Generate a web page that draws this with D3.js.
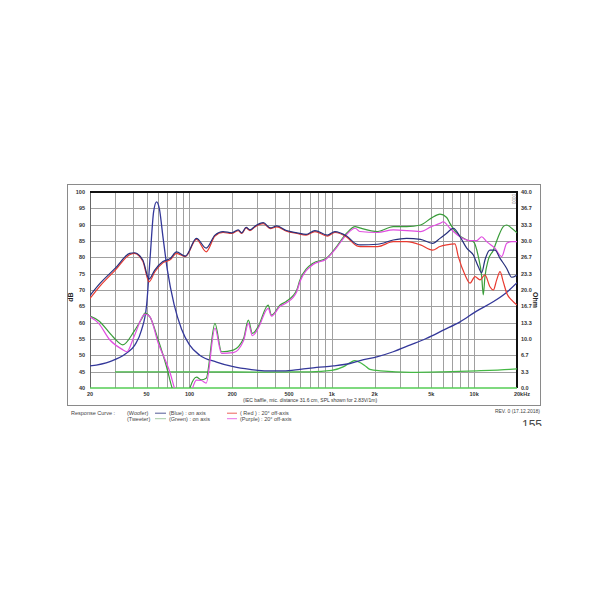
<!DOCTYPE html>
<html>
<head>
<meta charset="utf-8">
<script src="https://cdn.jsdelivr.net/npm/d3@7"></script>
<style>
  body { margin: 0; background: #fff; }
  svg { display: block; font-family: "Liberation Sans", Arial, sans-serif; }
</style>
</head>
<body>
<svg id="chart" width="610" height="610"></svg>
<script>
// grid / tick values
const dbTicks = [40, 45, 50, 55, 60, 65, 70, 75, 80, 85, 90, 95, 100];
const ohmTicks = ["0.0", "3.3", "6.7", "10.0", "13.3", "16.7", "20.0", "23.3", "26.7", "30.0", "33.3", "36.7", "40.0"];
const freqLabels = [[20, "20"], [50, "50"], [100, "100"], [200, "200"], [500, "500"], [1000, "1k"], [2000, "2k"], [5000, "5k"], [10000, "10k"]];

// woofer, on axis (blue) - [Hz, dB]
const wooferOn = [
  [20, 68.3], [23.5, 72], [30, 76.6], [38, 81.2], [41, 81.4], [47, 79.2], [52, 73.4], [57, 76.1],
  [65, 78.7], [73.5, 79.7], [81, 81.7], [93.5, 80.4], [112, 85.8], [131, 82.8], [151, 86.8],
  [172, 87.9], [198, 87.5], [220, 88.4], [233, 87.5], [250, 89.2], [266, 88.4], [290, 89.6],
  [330, 90.6], [370, 89.0], [410, 89.6], [480, 88.2], [570, 87.5], [660, 87.0], [760, 88.2],
  [930, 86.8], [1050, 87.9], [1270, 86.5], [1500, 84.0], [1580, 83.8], [2100, 84.0], [2700, 85.3],
  [3350, 85.8], [4200, 85.5], [5100, 84.3], [5750, 85.8], [6410, 87.4], [7140, 88.9], [7960, 86.3],
  [8870, 82.8], [9870, 80.7], [10700, 77.1], [11300, 75.3], [11910, 79.2], [12910, 82.2],
  [14000, 82.2], [15200, 79.7], [16940, 76.6], [18360, 73.9], [20000, 74.6]
];
// woofer, 20 deg off axis (red)
const wooferOff = [
  [20, 67.4], [23.5, 71.2], [30, 76.0], [38, 80.8], [41, 81.2], [47, 78.8], [52, 72.5], [57, 75.5],
  [65, 78.3], [73.5, 79.3], [81, 81.2], [93.5, 80.2], [112, 85.5], [131, 81.7], [151, 86.5],
  [172, 87.6], [198, 87.3], [220, 88.2], [233, 87.3], [250, 89.0], [266, 88.2], [290, 89.4],
  [330, 90.3], [370, 88.8], [410, 89.3], [480, 88.0], [570, 87.3], [660, 86.8], [760, 87.9],
  [930, 86.5], [1050, 87.6], [1270, 86.2], [1500, 83.5], [1580, 83.3], [2100, 83.3], [2700, 84.8],
  [3350, 84.8], [4200, 83.8], [5100, 82.2], [5750, 83.3], [6410, 83.8], [7330, 84.1], [7740, 80.2],
  [8630, 74.6], [9350, 72.1], [10140, 74.1], [10990, 73.1], [11910, 74.6], [12910, 71.0],
  [13640, 70.0], [14400, 73.1], [15200, 75.6], [16020, 72.5], [16940, 69.0], [18360, 66.9], [20000, 65.4]
];
// tweeter, on axis (green)
const tweeterOn = [
  [20, 62.0], [23, 60.6], [29, 55.7], [34, 53.2], [41, 57.5], [47, 61.8], [48.6, 62.9], [52.7, 61.8],
  [60, 55.0], [69, 46.5], [75, 40.4], [85, 35.0], [95, 36.0], [101, 40.2], [112, 43.3], [121, 42.5],
  [131, 43.0], [151, 59.8], [168, 51.1], [203, 51.6], [240, 55.2], [259, 60.8], [277, 56.7],
  [304, 58.8], [357, 65.4], [377, 62.3], [433, 65.4], [478, 66.5], [567, 70.0], [597, 73.1],
  [738, 78.2], [915, 79.7], [1080, 83.3], [1270, 87.4], [1460, 89.4], [1570, 89.0], [2100, 87.9],
  [2700, 89.4], [3350, 89.4], [4200, 89.9], [5000, 92.0], [5750, 93.2], [6410, 92.2], [6760, 90.4],
  [7540, 87.4], [8870, 85.3], [9870, 84.8], [10700, 80.2], [11300, 74.1], [11590, 68.5],
  [11910, 74.1], [12560, 79.2], [13640, 82.2], [14780, 86.3], [16020, 89.4], [16940, 89.9],
  [18360, 88.9], [20000, 87.5]
];
// tweeter, 20 deg off axis (purple)
const tweeterOff = [
  [20, 61.8], [23, 59.8], [27.6, 54.7], [33.4, 51.9], [36.3, 51.1], [41, 56.0], [48.6, 62.6],
  [52.7, 61.8], [60, 54.0], [73.5, 44.3], [79, 39.5], [90, 35.0], [101, 38.0], [112, 42.4],
  [121, 42.3], [131, 41.5], [151, 58.3], [168, 50.6], [203, 50.8], [240, 54.5], [259, 59.8],
  [277, 56.0], [304, 58.3], [357, 64.4], [377, 62.0], [433, 65.0], [478, 66.0], [567, 69.5],
  [597, 72.5], [738, 77.8], [915, 79.5], [1080, 83.0], [1270, 87.0], [1460, 88.9], [1570, 87.9],
  [2100, 87.6], [2700, 88.4], [4200, 87.9], [5000, 89.4], [5750, 90.4], [6070, 90.9], [6760, 88.9],
  [7960, 86.3], [9350, 85.1], [10420, 85.1], [11300, 86.3], [12250, 84.8], [14000, 82.8],
  [15620, 80.2], [16940, 84.3], [18360, 84.8], [20000, 84.8]
];
// impedance - [Hz, Ohm]
const wooferImp = [
  [20, 4.5], [27.6, 5.4], [36, 7.1], [41.4, 8.8], [46, 11.8], [50, 17], [53, 27], [56, 36],
  [58.7, 38], [61.5, 36.5], [65, 31], [70, 24], [78, 17], [88, 12], [100, 8.8],
  [118, 6.7], [155, 5.3], [203, 4.35], [266, 3.8], [350, 3.5], [458, 3.5], [598, 3.8], [783, 4.2],
  [1025, 4.5], [1340, 5.0], [1580, 5.6], [2100, 6.4], [2700, 7.4], [3570, 8.8], [4600, 10.1],
  [6070, 11.8], [7960, 13.5], [10400, 15.7], [13600, 17.6], [16900, 19.5], [20000, 21.5]
];
const tweeterImp = [
  [30, 3.3], [100, 3.3], [300, 3.25], [700, 3.3], [1000, 3.6], [1200, 4.3], [1350, 5.2], [1450, 5.6],
  [1550, 5.3], [1700, 4.6], [1850, 3.8], [2200, 3.5], [3600, 3.2], [6000, 3.3], [10400, 3.5],
  [17800, 3.8], [20000, 3.9]
];

const legendRows = [
  ["(Woofer)", "(Blue)  : on axis", "( Red ) : 20\u00b0 off-axis"],
  ["(Tweeter)", "(Green) : on axis", "(Purple) : 20\u00b0 off-axis"]
];

const plot = {left: 90, right: 517, top: 192, bottom: 388};
const colors = {
  blue: "#27307c", red: "#e8392f", green: "#3a9d3a", purple: "#e04ee0",
  imp: "#34389a", timp: "#45b845", grid: "#a0a0a0"
};

const svg = d3.select("#chart");

const x = d3.scaleLog().domain([20, 20000]).range([plot.left, plot.right]);
const y = d3.scaleLinear().domain([40, 100]).range([plot.bottom, plot.top]);
const yOhm = d3.scaleLinear().domain([0, 40]).range([plot.bottom, plot.top]);

// outer frame
svg.append("rect")
    .attr("x", 67.5).attr("y", 184.5)
    .attr("width", 473).attr("height", 221)
    .attr("fill", "none").attr("stroke", "#8a8a8a").attr("stroke-width", 1);

svg.append("defs").append("clipPath").attr("id", "plotclip")
    .append("rect")
    .attr("x", plot.left).attr("y", plot.top)
    .attr("width", plot.right - plot.left).attr("height", plot.bottom - plot.top);

// grid
let gridFreqs = [];
[10, 100, 1000, 10000].forEach(dec => {
    for (let m = 1; m <= 9; m++) {
        let f = dec * m;
        if (f > 20 && f < 20000) gridFreqs.push(f);
    }
});
svg.append("g").selectAll("line.v")
    .data(gridFreqs)
    .join("line")
    .attr("x1", d => Math.round(x(d)) + 0.5).attr("x2", d => Math.round(x(d)) + 0.5)
    .attr("y1", plot.top).attr("y2", plot.bottom)
    .attr("stroke", colors.grid).attr("stroke-width", 1);
svg.append("g").selectAll("line.h")
    .data(dbTicks.slice(1, -1))
    .join("line")
    .attr("x1", plot.left).attr("x2", plot.right)
    .attr("y1", d => Math.round(y(d)) + 0.5).attr("y2", d => Math.round(y(d)) + 0.5)
    .attr("stroke", colors.grid).attr("stroke-width", 1);

// borders
svg.append("line").attr("x1", plot.left + 0.5).attr("x2", plot.left + 0.5)
    .attr("y1", plot.top).attr("y2", plot.bottom).attr("stroke", "#666");
svg.append("line").attr("x1", plot.left).attr("x2", plot.right + 1)
    .attr("y1", plot.top).attr("y2", plot.top).attr("stroke", "#111").attr("stroke-width", 2);
svg.append("line").attr("x1", plot.right).attr("x2", plot.right)
    .attr("y1", plot.top).attr("y2", plot.bottom).attr("stroke", "#111").attr("stroke-width", 2);
svg.append("line").attr("x1", plot.left).attr("x2", plot.right)
    .attr("y1", plot.bottom).attr("y2", plot.bottom).attr("stroke", "#55cc55").attr("stroke-width", 1.5);

// curves
const lineDb = d3.line().x(d => x(d[0])).y(d => y(d[1])).curve(d3.curveMonotoneX);
const lineOhm = d3.line().x(d => x(d[0])).y(d => yOhm(d[1])).curve(d3.curveMonotoneX);

const curves = svg.append("g").attr("clip-path", "url(#plotclip)").attr("fill", "none");
curves.append("path").attr("d", lineOhm(tweeterImp)).attr("stroke", colors.timp).attr("stroke-width", 1.3);
curves.append("path").attr("d", lineOhm(wooferImp)).attr("stroke", colors.imp).attr("stroke-width", 1.3);
curves.append("path").attr("d", lineDb(tweeterOn)).attr("stroke", colors.green).attr("stroke-width", 1.2);
curves.append("path").attr("d", lineDb(tweeterOff)).attr("stroke", colors.purple).attr("stroke-width", 1.2);
curves.append("path").attr("d", lineDb(wooferOff)).attr("stroke", colors.red).attr("stroke-width", 1.2);
curves.append("path").attr("d", lineDb(wooferOn)).attr("stroke", colors.blue).attr("stroke-width", 1.2);

// axis labels
const labels = svg.append("g").attr("fill", "#333").attr("font-size", 5.5).attr("font-weight", "bold");
labels.selectAll("text.db")
    .data(dbTicks)
    .join("text")
    .attr("x", 85).attr("y", d => y(d) + 2)
    .attr("text-anchor", "end")
    .text(d => d);
labels.selectAll("text.ohm")
    .data(ohmTicks)
    .join("text")
    .attr("x", 521).attr("y", (d, i) => yOhm(i * 40 / 12) + 2)
    .text(d => d);
labels.selectAll("text.f")
    .data(freqLabels)
    .join("text")
    .attr("x", d => x(d[0])).attr("y", 396)
    .attr("text-anchor", "middle")
    .text(d => d[1]);
labels.append("text").attr("x", 514).attr("y", 396).text("20kHz");

svg.append("text")
    .attr("transform", "translate(73,297) rotate(-90)")
    .attr("text-anchor", "middle").attr("font-size", 7).attr("font-weight", "bold").attr("fill", "#222")
    .text("dB");
svg.append("text")
    .attr("transform", "translate(533,300) rotate(90)")
    .attr("text-anchor", "middle").attr("font-size", 7).attr("font-weight", "bold").attr("fill", "#222")
    .text("Ohm");
svg.append("text")
    .attr("transform", "translate(512,194) rotate(90)")
    .attr("font-size", 4.5).attr("fill", "#777")
    .text("0000");

svg.append("text")
    .attr("x", 310).attr("y", 402)
    .attr("text-anchor", "middle").attr("font-size", 5).attr("fill", "#333")
    .text("(IEC baffle, mic. distance 31.6 cm, SPL shown for 2.83V/1m)");

// legend
const legend = svg.append("g").attr("font-size", 5.5).attr("fill", "#444");
legend.append("text").attr("x", 71).attr("y", 415).text("Response Curve :");
const legendColors = [[colors.blue, colors.red], ["#8fbf8f", colors.purple]];
legendRows.forEach((row, i) => {
    let yy = 415 + i * 5.5;
    legend.append("text").attr("x", 127).attr("y", yy).text(row[0]);
    legend.append("line").attr("x1", 155).attr("x2", 166).attr("y1", yy - 1.8).attr("y2", yy - 1.8)
        .attr("stroke", legendColors[i][0]).attr("stroke-width", 0.8);
    legend.append("text").attr("x", 169).attr("y", yy).text(row[1]);
    legend.append("line").attr("x1", 227).attr("x2", 237).attr("y1", yy - 1.8).attr("y2", yy - 1.8)
        .attr("stroke", legendColors[i][1]).attr("stroke-width", 0.8);
    legend.append("text").attr("x", 240).attr("y", yy).text(row[2]);
});

svg.append("text")
    .attr("x", 540).attr("y", 413)
    .attr("text-anchor", "end").attr("font-size", 5).attr("fill", "#444")
    .text("REV. 0 (17.12.2018)");

svg.append("clipPath").attr("id", "numclip")
    .append("rect").attr("x", 500).attr("y", 410).attr("width", 60).attr("height", 16);
svg.append("text")
    .attr("x", 542).attr("y", 429)
    .attr("text-anchor", "end").attr("font-size", 12).attr("fill", "#444")
    .attr("clip-path", "url(#numclip)")
    .text("155");
</script>
</body>
</html>
